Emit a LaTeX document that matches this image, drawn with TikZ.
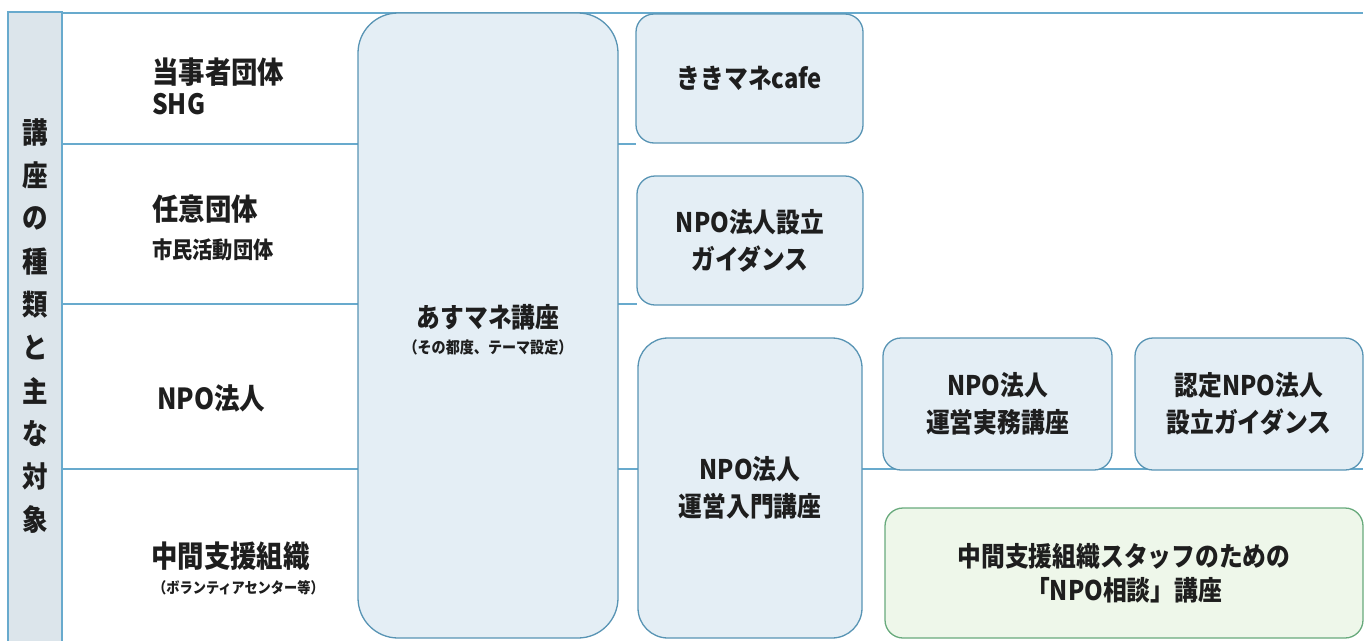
\documentclass[tikz,border=0pt]{standalone}
\usepackage{fontspec}
\setmainfont{Noto Sans CJK JP}[FakeStretch=0.88]
\definecolor{ruleblue}{RGB}{104,170,205}
\definecolor{boxblue}{RGB}{88,148,180}
\definecolor{boxfill}{RGB}{228,238,245}
\definecolor{colfill}{RGB}{220,229,235}
\definecolor{greenline}{RGB}{104,170,124}
\definecolor{greenfill}{RGB}{238,247,234}
\definecolor{ink}{RGB}{30,30,30}
\tikzset{
  rule/.style={draw=ruleblue, line width=1.2},
  kbox/.style={draw=boxblue, fill=boxfill, line width=1.3, rounded corners=18,
    align=center, inner sep=0pt, text=ink,
    font=\bfseries\fontsize{27}{37}\selectfont},
  gbox/.style={kbox, draw=greenline, fill=greenfill},
  lbl/.style={anchor=west, inner sep=0pt, text=ink},
}

\begin{document}
\begin{tikzpicture}[x=1pt,y=1pt,yscale=-1,xscale=1]
\useasboundingbox (0,0) rectangle (1370,640);
\clip (0,0) rectangle (1370,640);

%Straight Lines (table rules)
\draw [rule] (8,13) -- (1363,13) ;
\draw [rule] (62,144) -- (636,144) ;
\draw [rule] (62,304) -- (637,304) ;
\draw [rule] (62,469) -- (1363,469) ;

%Shape: Left column
\filldraw [fill=colfill, draw=ruleblue, line width=1.2] (8,12) rectangle (62,650) ;
\foreach \c [count=\i] in {講,座,の,種,類,と,主,な,対,象}
  \node [inner sep=0pt, text=ink, font=\bfseries\fontsize{29}{29}\selectfont] (col\i) at (35,{132+43.1*(\i-1)}) {\c};

% Text Node (targets)
\node [lbl, font=\bfseries\fontsize{30}{30}\selectfont] (tojisha) at (152,72) {当事者団体};
\node [lbl, font=\bfseries\fontsize{28}{28}\selectfont] (shg) at (152,104) {SHG};
\node [lbl, font=\bfseries\fontsize{30}{30}\selectfont] (nini) at (152,209) {任意団体};
\node [lbl, font=\bfseries\fontsize{23}{23}\selectfont] (shimin) at (152,250) {市民活動団体};
\node [lbl, font=\bfseries\fontsize{29}{29}\selectfont] (npo) at (157,398) {NPO法人};
\node [lbl, font=\bfseries\fontsize{30}{30}\selectfont] (chukan) at (151,556) {中間支援組織};
\node [lbl, font=\bfseries\fontsize{15}{15}\selectfont] (vc) at (153,588) {（ボランティアセンター等）};

%Shape: Rounded Rect (courses)
\node [kbox, rounded corners=40, minimum width=260, minimum height=625] (asu) at (488,325.5) {};
\node [inner sep=0pt, text=ink, align=center, font=\bfseries\fontsize{27}{27}\selectfont] (asutitle) at (488,317) {あすマネ講座};
\node [inner sep=0pt, text=ink, font=\bfseries\fontsize{16}{16}\selectfont] (asusub) at (488,347) {（その都度、テーマ設定）};

\node [kbox, minimum width=227, minimum height=129] (cafe) at (749.5,78.5) {ききマネcafe};
\node [kbox, minimum width=226, minimum height=129] (setsu) at (750,240.5) {NPO法人設立\\ガイダンス};
\node [kbox, rounded corners=30, minimum width=224, minimum height=300] (nyumon) at (750,488) {NPO法人\\運営入門講座};
\node [kbox, minimum width=229, minimum height=132] (jitsumu) at (997.5,404) {NPO法人\\運営実務講座};
\node [kbox, minimum width=228, minimum height=132] (nintei) at (1249,404) {認定NPO法人\\設立ガイダンス};
\node [gbox, font=\bfseries\fontsize{27}{34}\selectfont, minimum width=478, minimum height=130] (soudan) at (1124,573) {中間支援組織スタッフのための\\「NPO相談」講座};

\end{tikzpicture}
\end{document}
